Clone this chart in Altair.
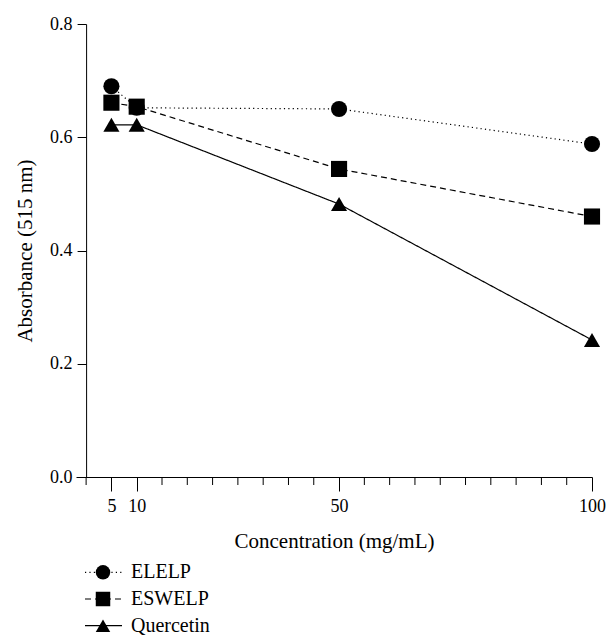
import altair as alt
import pandas as pd

# ---- data ----
conc = [5, 10, 50, 100]
series = ["ELELP", "ESWELP", "Quercetin"]
elelp = [0.690, 0.652, 0.650, 0.588]
eswelp = [0.661, 0.654, 0.544, 0.460]
quercetin = [0.622, 0.622, 0.482, 0.242]

x_labeled = [5, 10, 50, 100]
x_minor = [0, 15, 20, 25, 30, 35, 40, 45, 55, 60, 65, 70, 75, 80, 85, 90, 95]
y_ticks = [0.0, 0.2, 0.4, 0.6, 0.8]

rows = []
for name, vals in zip(series, [elelp, eswelp, quercetin]):
    for c, v in zip(conc, vals):
        rows.append({"series": name, "conc": c, "abs": v})
df = pd.DataFrame(rows)
legend_df = pd.DataFrame({"series": series})
minor_df = pd.DataFrame({"tick": x_minor})

FONT = "Liberation Serif"
dash_range = [[1.2, 3.2], [6, 4], [1, 0]]
shape_range = ["circle", "square", "triangle-up"]

W, H = 516, 453
xscale = alt.Scale(domain=[-2, 100], nice=False, zero=False)
yscale = alt.Scale(domain=[0, 0.8], nice=False)

x_axis = alt.Axis(
    values=x_labeled, tickSize=14, labelOverlap=False, labelFlush=False,
    labelFont=FONT, labelFontSize=18, labelColor="black", labelPadding=6,
    title="Concentration (mg/mL)", titleFont=FONT, titleFontSize=21,
    titleFontWeight="normal", titleColor="black", titlePadding=15,
    domainColor="black", tickColor="black", grid=False,
)
y_axis = alt.Axis(
    values=y_ticks, format=".1f", tickSize=9, offset=-10.1,
    labelFont=FONT, labelFontSize=18, labelColor="black", labelPadding=5,
    title="Absorbance (515 nm)", titleFont=FONT, titleFontSize=21,
    titleFontWeight="normal", titleColor="black", titlePadding=14,
    domainColor="black", tickColor="black", grid=False,
)

stroke_dash = alt.StrokeDash("series:N", scale=alt.Scale(domain=series, range=dash_range), legend=None)
shape = alt.Shape("series:N", scale=alt.Scale(domain=series, range=shape_range), legend=None)

base = alt.Chart(df)
lines = base.mark_line(color="black", strokeWidth=1.2).encode(
    x=alt.X("conc:Q", scale=xscale, axis=x_axis),
    y=alt.Y("abs:Q", scale=yscale, axis=y_axis),
    strokeDash=stroke_dash,
    detail="series:N",
)
points = base.mark_point(filled=True, color="black", opacity=1, size=260).encode(
    x=alt.X("conc:Q", scale=xscale),
    y=alt.Y("abs:Q", scale=yscale),
    shape=shape,
)
minor = alt.Chart(minor_df).mark_rule(color="black", strokeWidth=1).encode(
    x=alt.X("tick:Q", scale=xscale),
    y=alt.value(H),
    y2=alt.value(H + 8),
)
main = alt.layer(lines, points, minor).properties(width=W, height=H)

lscale = alt.Scale(domain=series, paddingInner=0, paddingOuter=0)
lrule = alt.Chart(legend_df).mark_rule(color="black", strokeWidth=1.2).encode(
    x=alt.value(9), x2=alt.value(46),
    y=alt.Y("series:N", scale=lscale, axis=None),
    strokeDash=stroke_dash,
)
lpoint = alt.Chart(legend_df).mark_point(filled=True, color="black", opacity=1, size=210).encode(
    x=alt.value(27),
    y=alt.Y("series:N", scale=lscale, axis=None),
    shape=shape,
)
ltext = alt.Chart(legend_df).mark_text(
    align="left", baseline="middle", font=FONT, fontSize=20, color="black"
).encode(
    x=alt.value(55),
    y=alt.Y("series:N", scale=lscale, axis=None),
    text="series:N",
)
legend = alt.layer(lrule, lpoint, ltext).properties(width=200, height=80)

chart = alt.vconcat(main, legend, spacing=8).properties(
    padding={"left": 6, "top": 7, "right": 0, "bottom": 0}
).configure_view(stroke=None)

chart.save("out.html", embed_options={"renderer": "svg", "actions": False})
